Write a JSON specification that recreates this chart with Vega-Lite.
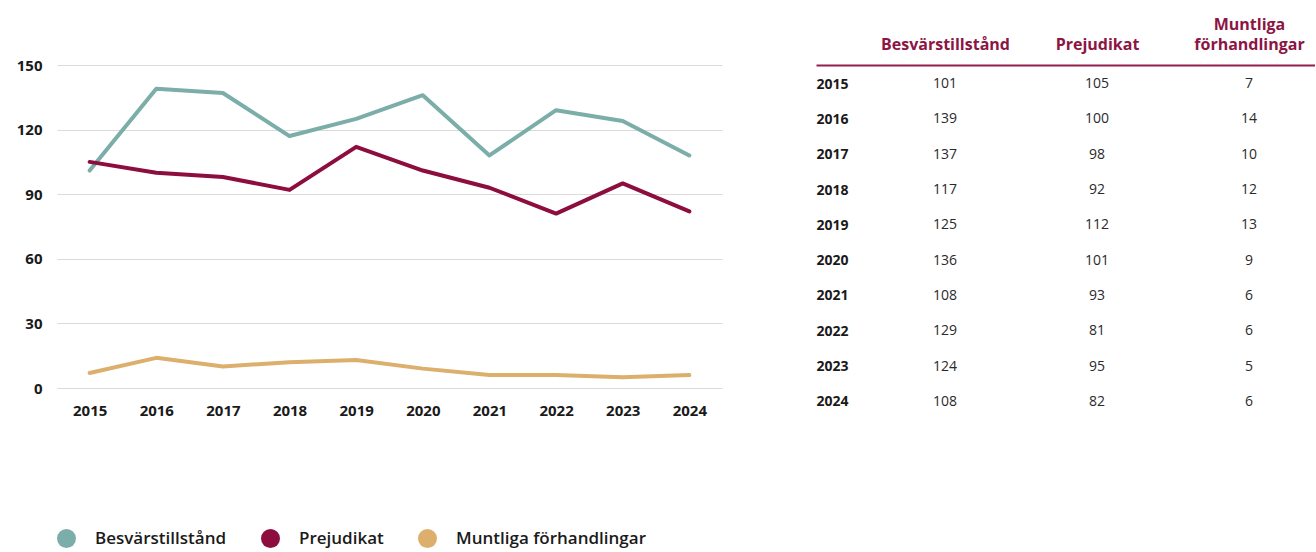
{
  "$schema": "https://vega.github.io/schema/vega-lite/v6.json",
  "background": "white",
  "padding": {"left": 16, "top": 16, "right": 0, "bottom": 0},
  "bounds": "flush",
  "spacing": 94,
  "config": {
    "view": {"stroke": null},
    "font": "Open Sans",
    "axis": {"title": null}
  },
  "resolve": {"scale": {"x": "independent", "y": "independent"}},
  "datasets": {
    "d": [
      {"year": "2015", "series": "Besvärstillstånd", "value": 101},
      {"year": "2016", "series": "Besvärstillstånd", "value": 139},
      {"year": "2017", "series": "Besvärstillstånd", "value": 137},
      {"year": "2018", "series": "Besvärstillstånd", "value": 117},
      {"year": "2019", "series": "Besvärstillstånd", "value": 125},
      {"year": "2020", "series": "Besvärstillstånd", "value": 136},
      {"year": "2021", "series": "Besvärstillstånd", "value": 108},
      {"year": "2022", "series": "Besvärstillstånd", "value": 129},
      {"year": "2023", "series": "Besvärstillstånd", "value": 124},
      {"year": "2024", "series": "Besvärstillstånd", "value": 108},
      {"year": "2015", "series": "Prejudikat", "value": 105},
      {"year": "2016", "series": "Prejudikat", "value": 100},
      {"year": "2017", "series": "Prejudikat", "value": 98},
      {"year": "2018", "series": "Prejudikat", "value": 92},
      {"year": "2019", "series": "Prejudikat", "value": 112},
      {"year": "2020", "series": "Prejudikat", "value": 101},
      {"year": "2021", "series": "Prejudikat", "value": 93},
      {"year": "2022", "series": "Prejudikat", "value": 81},
      {"year": "2023", "series": "Prejudikat", "value": 95},
      {"year": "2024", "series": "Prejudikat", "value": 82},
      {"year": "2015", "series": "Muntliga förhandlingar", "value": 7},
      {"year": "2016", "series": "Muntliga förhandlingar", "value": 14},
      {"year": "2017", "series": "Muntliga förhandlingar", "value": 10},
      {"year": "2018", "series": "Muntliga förhandlingar", "value": 12},
      {"year": "2019", "series": "Muntliga förhandlingar", "value": 13},
      {"year": "2020", "series": "Muntliga förhandlingar", "value": 9},
      {"year": "2021", "series": "Muntliga förhandlingar", "value": 6},
      {"year": "2022", "series": "Muntliga förhandlingar", "value": 6},
      {"year": "2023", "series": "Muntliga förhandlingar", "value": 5},
      {"year": "2024", "series": "Muntliga förhandlingar", "value": 6}
    ]
  },
  "hconcat": [
    {
      "width": 665,
      "height": 323,
      "data": {"name": "d"},
      "encoding": {
        "x": {
          "field": "year",
          "type": "ordinal",
          "scale": {"type": "point", "padding": 0.49},
          "axis": {
            "labelAngle": 0,
            "domain": false,
            "ticks": false,
            "tickSize": 0,
            "grid": false,
            "labelPadding": 15,
            "labelFont": "Open Sans",
            "labelFontSize": 15,
            "labelFontWeight": "bold",
            "labelColor": "#1a1a1a"
          }
        },
        "y": {
          "field": "value",
          "type": "quantitative",
          "scale": {"domain": [0, 150], "nice": false},
          "axis": {
            "values": [0, 30, 60, 90, 120, 150],
            "domain": false,
            "ticks": false,
            "tickSize": 0,
            "grid": true,
            "gridColor": "#dadada",
            "gridWidth": 1.2,
            "labelPadding": 15,
            "labelFont": "Open Sans",
            "labelFontSize": 15,
            "labelFontWeight": "bold",
            "labelColor": "#1a1a1a"
          }
        },
        "color": {
          "field": "series",
          "type": "nominal",
          "scale": {
            "domain": ["Besvärstillstånd", "Prejudikat", "Muntliga förhandlingar"],
            "range": ["#7BADA9", "#8C0D3E", "#DCAF6C"]
          },
          "legend": {
            "orient": "none",
            "legendX": 0,
            "legendY": 464,
            "direction": "horizontal",
            "title": null,
            "padding": 0,
            "symbolType": "circle",
            "symbolSize": 361,
            "symbolStrokeWidth": 0,
            "symbolOpacity": 1,
            "labelFont": "Open Sans",
            "labelFontSize": 17,
            "labelFontWeight": 600,
            "labelColor": "#1a1a1a",
            "labelOffset": 19,
            "labelLimit": 400,
            "columnPadding": 34
          }
        }
      },
      "layer": [
        {"mark": {"type": "point", "filled": true, "size": 0}},
        {"mark": {"type": "line", "strokeWidth": 4, "strokeJoin": "round", "strokeCap": "round"}}
      ]
    },
    {
      "width": 499,
      "height": 356,
      "data": {"name": "d"},
      "mark": {"type": "text", "fontSize": 14, "color": "#2a2a2a", "font": "Open Sans", "baseline": "middle"},
      "encoding": {
        "x": {
          "field": "series",
          "type": "nominal",
          "sort": ["Besvärstillstånd", "Prejudikat", "Muntliga förhandlingar"],
          "scale": {"type": "point", "padding": 0.6414, "align": 0.6615},
          "axis": {
            "orient": "top",
            "labelAngle": 0,
            "domain": true,
            "domainColor": "#931F4D",
            "domainWidth": 2,
            "ticks": false,
            "tickSize": 0,
            "grid": false,
            "labelPadding": {"condition": {"test": "datum.value == 'Muntliga förhandlingar'", "value": 32.5}, "value": 13},
            "labelBaseline": "bottom",
            "labelLineHeight": 19.5,
            "labelFont": "Open Sans",
            "labelFontSize": 16,
            "labelFontWeight": "bold",
            "labelColor": "#8C1543",
            "labelLimit": 300,
            "labelExpr": "datum.value == 'Muntliga förhandlingar' ? ['Muntliga', 'förhandlingar'] : datum.value"
          }
        },
        "y": {
          "field": "year",
          "type": "ordinal",
          "scale": {"type": "point", "padding": 0.54},
          "axis": {
            "orient": "left",
            "domain": false,
            "ticks": false,
            "tickSize": 0,
            "grid": false,
            "labelAlign": "left",
            "labelPadding": 0,
            "labelFont": "Open Sans",
            "labelFontSize": 14,
            "labelFontWeight": "bold",
            "labelColor": "#1a1a1a"
          }
        },
        "text": {"field": "value", "type": "quantitative"}
      }
    }
  ]
}
